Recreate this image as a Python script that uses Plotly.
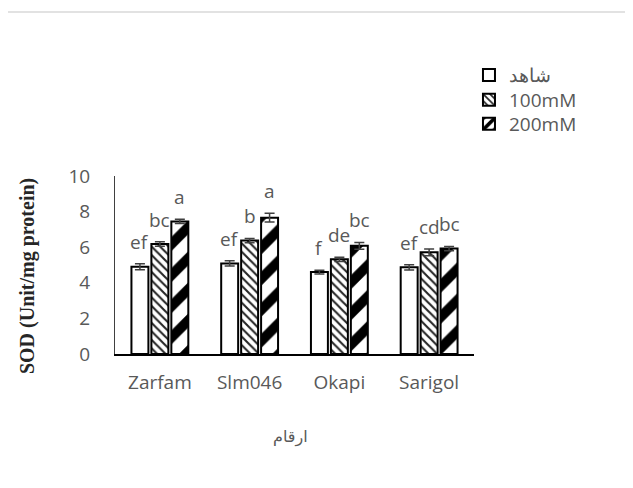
import plotly.graph_objects as go

categories = ["Zarfam", "Slm046", "Okapi", "Sarigol"]
series_names = ["شاهد", "100mM", "200mM"]
control_vals = [4.9, 5.09, 4.6, 4.87]
mm100_vals = [6.18, 6.37, 5.32, 5.71]
mm200_vals = [7.45, 7.66, 6.08, 5.92]
control_err = [0.17, 0.15, 0.1, 0.15]
mm100_err = [0.12, 0.12, 0.12, 0.19]
mm200_err = [0.12, 0.25, 0.19, 0.12]
control_letters = ["ef", "ef", "f", "ef"]
mm100_letters = ["bc", "b", "de", "cd"]
mm200_letters = ["a", "a", "bc", "bc"]
y_ticks = [0, 2, 4, 6, 8, 10]

GRAY = "#595959"
FONT = "Open Sans"
FS = 19

series = [
    (series_names[0], control_vals, control_err, control_letters,
     dict(shape="", fgcolor="black"), -20, "legend", 1.567),
    (series_names[1], mm100_vals, mm100_err, mm100_letters,
     dict(shape="\\", size=6, solidity=0.35, fgcolor="black", fgopacity=0.85), 0, "legend2", 1.427),
    (series_names[2], mm200_vals, mm200_err, mm200_letters,
     dict(shape="/", size=22, solidity=0.45, fgcolor="black", fgopacity=1), 20, "legend3", 1.292),
]

fig = go.Figure()
annotations = []
legend_layouts = {}
for name, vals, errs, letters, pat, shift, leg, ly in series:
    fig.add_trace(go.Bar(
        x=categories, y=vals, name=name, legend=leg,
        marker=dict(color="white", line=dict(color="black", width=2), pattern=pat),
        error_y=dict(type="data", array=errs, visible=True, color="#404040", thickness=1.5, width=5),
    ))
    legend_layouts[leg] = dict(x=0.986, y=ly, xanchor="left", yanchor="middle",
                               font=dict(family=FONT, size=FS, color=GRAY),
                               itemwidth=30, bgcolor="rgba(0,0,0,0)")
    for c, v, e, t in zip(categories, vals, errs, letters):
        annotations.append(dict(
            x=c, y=v + e, text=t, showarrow=False, xref="x", yref="y",
            xshift=shift, yshift=7, yanchor="bottom",
            font=dict(family=FONT, size=FS, color=GRAY),
        ))

annotations.append(dict(
    x=-0.245, y=0.438, xref="paper", yref="paper", text="<b>SOD (Unit/mg protein)</b>",
    textangle=-90, showarrow=False, xanchor="center", yanchor="middle",
    font=dict(family="Liberation Serif", size=20, color="#262626"),
))
annotations.append(dict(
    x=0.49, y=-0.466, xref="paper", yref="paper", text="ارقام",
    showarrow=False, xanchor="center", yanchor="middle",
    font=dict(family="DejaVu Sans", size=16, color=GRAY),
))

fig.update_layout(
    width=633, height=488,
    margin=dict(l=107, r=167, t=168, b=142),
    paper_bgcolor="white", plot_bgcolor="white",
    barmode="group", bargap=0.333, bargroupgap=0.15,
    font=dict(family=FONT, size=FS, color=GRAY),
    showlegend=True,
    annotations=annotations,
    shapes=[dict(type="line", xref="paper", yref="paper", x0=-0.4, x1=1.5,
                 y0=1.921, y1=1.921, line=dict(color="#d9d9d9", width=1.5))],
    **legend_layouts,
)
fig.update_xaxes(showline=True, linecolor="black", linewidth=1.5, ticks="",
                 ticklabelstandoff=10,
                 tickfont=dict(family=FONT, size=FS, color=GRAY))
fig.update_yaxes(range=[0, 10], tickvals=y_ticks, showgrid=False, showline=True,
                 linecolor="#404040", linewidth=1, ticks="", zeroline=False,
                 ticklabelstandoff=20,
                 tickfont=dict(family=FONT, size=FS, color=GRAY))

fig.write_html("out.html")
